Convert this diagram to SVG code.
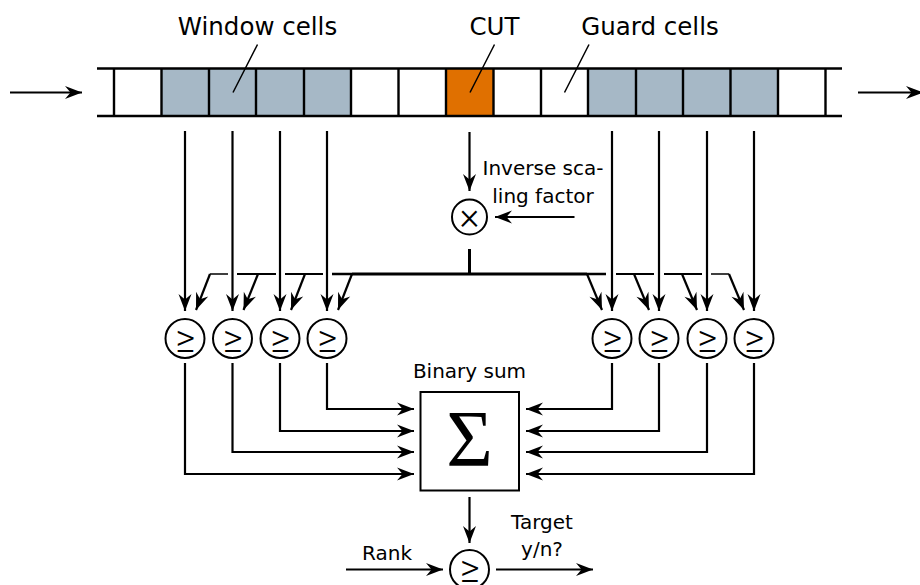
<svg xmlns="http://www.w3.org/2000/svg" width="920" height="585" viewBox="0 0 920 585">
<style>
text{font-family:"DejaVu Sans",sans-serif;fill:#000;text-anchor:middle}
.t{font-size:24.500px}.s{font-size:20px}
.white{fill:#fff}.gray{fill:#a6b8c6}.orange{fill:#e07000}
.sep{fill:none;stroke:#000;stroke-width:2.400}
.lead{fill:none;stroke:#000;stroke-width:1.500}
.arr{fill:none;stroke:#000;stroke-width:2.200;marker-end:url(#a)}
.circ{fill:#fff;stroke:#000;stroke-width:2}
.ge{font-family:Roboto,sans-serif;font-weight:300;font-size:38px}
</style>
<defs>
<marker id="a" markerUnits="userSpaceOnUse" markerWidth="20" markerHeight="16" refX="17" refY="7" orient="auto" overflow="visible"><path d="M0,0.500 L17,7 L0,13.500 L5.500,7 Z" fill="#000"/></marker>
</defs>
<g id="register">
<rect class="white" x="114" y="68.500" width="47.500" height="47.500"/>
<g class="gray"><rect x="161.500" y="68.500" width="189.500" height="47.500"/><rect x="588" y="68.500" width="190" height="47.500"/></g>
<rect class="orange" x="446" y="68.500" width="47.500" height="47.500"/>
<path class="sep" d="M97,68.500H842M97,116H842M114,68.500V116M161.500,68.500V116M209,68.500V116M256,68.500V116M304,68.500V116M351,68.500V116M398.500,68.500V116M446,68.500V116M493.500,68.500V116M541,68.500V116M588,68.500V116M636,68.500V116M683,68.500V116M730.500,68.500V116M778,68.500V116M825.500,68.500V116"/>
</g>
<g id="labels">
<text class="t" x="257.500" y="35">Window cells</text>
<text class="t" x="494.500" y="35">CUT</text>
<text class="t" x="650" y="35">Guard cells</text>
<path class="lead" d="M257.500,44.500L233,92.500M494.500,44.500L470,92.500M589,44.500L564.500,92.500"/>
<text class="s" x="543" y="175">Inverse sca-</text>
<text class="s" x="543" y="203">ling factor</text>
<text class="s" x="469.500" y="378">Binary sum</text>
<text class="s" x="387" y="560">Rank</text>
<text class="s" x="542" y="529">Target</text>
<text class="s" x="542" y="556">y/n?</text>
</g>
<g id="connectors">
<path class="arr" d="M10,92.500H82"/>
<path class="arr" d="M858,92.500H923"/>
<path class="arr" d="M469.500,132V191"/>
<path class="arr" d="M574.500,217H495"/>
<path d="M469.500,249V274" fill="none" stroke="#000" stroke-width="3"/>
<path d="M352,274H587" fill="none" stroke="#000" stroke-width="3"/>
<path d="M332,274H352M587,274H606" fill="none" stroke="#000" stroke-width="2.600"/>
<path d="M285,274H323M616,274H654" fill="none" stroke="#000" stroke-width="2.200"/>
<path d="M237,274H276M664,274H702" fill="none" stroke="#000" stroke-width="1.800"/>
<path d="M210,274H228M711,274H729" fill="none" stroke="#000" stroke-width="1.500"/>
<path class="arr" d="M210,274L196,310"/>
<path class="arr" d="M258,274L243.500,310"/>
<path class="arr" d="M305,274L291,310"/>
<path class="arr" d="M352,274L338,310"/>
<path class="arr" d="M587,274L602,310"/>
<path class="arr" d="M634,274L649,310"/>
<path class="arr" d="M682,274L697,310"/>
<path class="arr" d="M729,274L744,310"/>
<path class="arr" d="M185,131V311"/>
<path class="arr" d="M232.500,131V311"/>
<path class="arr" d="M280,131V311"/>
<path class="arr" d="M327,131V311"/>
<path class="arr" d="M612,131V311"/>
<path class="arr" d="M659,131V311"/>
<path class="arr" d="M707,131V311"/>
<path class="arr" d="M754,131V311"/>
<path class="arr" d="M327,363V409H414"/>
<path class="arr" d="M280,363V431H414"/>
<path class="arr" d="M232.500,363V452H414"/>
<path class="arr" d="M185,363V474H414"/>
<path class="arr" d="M612,363V409H526"/>
<path class="arr" d="M659,363V431H526"/>
<path class="arr" d="M707,363V452H526"/>
<path class="arr" d="M754,363V474H526"/>
<path class="arr" d="M469.500,497V543"/>
<path class="arr" d="M346,569.500H443"/>
<path class="arr" d="M496,569.500H593"/>
</g>
<g id="mult"><circle class="circ" cx="469.500" cy="217" r="17.500"/><text x="469.500" y="229" style="font-family:Roboto,sans-serif;font-weight:300;font-size:38px">×</text></g>
<g id="ge1"><circle class="circ" cx="185" cy="338.500" r="19.500"/><text class="ge" x="185" y="351.500">≥</text></g>
<g id="ge2"><circle class="circ" cx="232.500" cy="338.500" r="19.500"/><text class="ge" x="232.500" y="351.500">≥</text></g>
<g id="ge3"><circle class="circ" cx="280" cy="338.500" r="19.500"/><text class="ge" x="280" y="351.500">≥</text></g>
<g id="ge4"><circle class="circ" cx="327" cy="338.500" r="19.500"/><text class="ge" x="327" y="351.500">≥</text></g>
<g id="ge5"><circle class="circ" cx="612" cy="338.500" r="19.500"/><text class="ge" x="612" y="351.500">≥</text></g>
<g id="ge6"><circle class="circ" cx="659" cy="338.500" r="19.500"/><text class="ge" x="659" y="351.500">≥</text></g>
<g id="ge7"><circle class="circ" cx="707" cy="338.500" r="19.500"/><text class="ge" x="707" y="351.500">≥</text></g>
<g id="ge8"><circle class="circ" cx="754" cy="338.500" r="19.500"/><text class="ge" x="754" y="351.500">≥</text></g>
<g id="sum"><rect x="420.500" y="392" width="98.500" height="98.500" fill="#fff" stroke="#000" stroke-width="2"/><text x="469.500" y="466" style="font-family:'Liberation Serif',serif;font-size:80px">Σ</text></g>
<g id="ge-out"><circle class="circ" cx="469.500" cy="569.500" r="19.500"/><text class="ge" x="469.500" y="582">≥</text></g>
</svg>
